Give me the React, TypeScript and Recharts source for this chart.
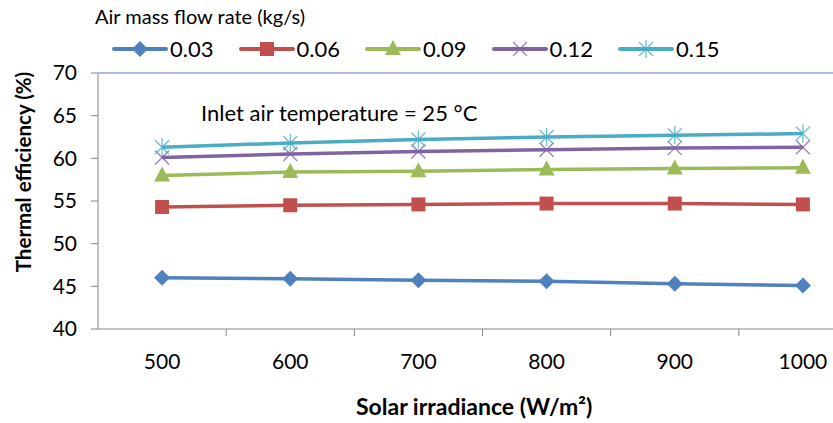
import React from "react";
import {
  LineChart,
  Line,
  XAxis,
  YAxis,
  ReferenceLine,
} from "recharts";

const irradiance = [500, 600, 700, 800, 900, 1000];
const flow003 = [46.0, 45.9, 45.7, 45.6, 45.3, 45.1];
const flow006 = [54.3, 54.5, 54.6, 54.7, 54.7, 54.6];
const flow009 = [58.0, 58.4, 58.5, 58.7, 58.8, 58.9];
const flow012 = [60.1, 60.5, 60.8, 61.0, 61.2, 61.3];
const flow015 = [61.3, 61.8, 62.2, 62.5, 62.7, 62.9];
const yTicks = [40, 45, 50, 55, 60, 65, 70];
const boundaryTicks = [550, 650, 750, 850, 950];

const series = [
  { key: "f003", name: "0.03", values: flow003, color: "#4F81BD", marker: "diamond" },
  { key: "f006", name: "0.06", values: flow006, color: "#C0504D", marker: "square" },
  { key: "f009", name: "0.09", values: flow009, color: "#9BBB59", marker: "triangle" },
  { key: "f012", name: "0.12", values: flow012, color: "#8064A2", marker: "x" },
  { key: "f015", name: "0.15", values: flow015, color: "#4BACC6", marker: "star" },
];

const data = irradiance.map((x, i) => {
  const row: Record<string, number> = { x };
  series.forEach((s) => (row[s.key] = s.values[i]));
  return row;
});

const FONT = "Lato, 'Open Sans', sans-serif";
const AXIS = "#868686";

function Marker({ type, cx, cy, color }: { type: string; cx: number; cy: number; color: string }) {
  if (type === "diamond")
    return <polygon points={`${cx},${cy - 8} ${cx + 8},${cy} ${cx},${cy + 8} ${cx - 8},${cy}`} fill={color} />;
  if (type === "square") return <rect x={cx - 7} y={cy - 7} width={14} height={14} fill={color} />;
  if (type === "triangle")
    return <polygon points={`${cx},${cy - 9} ${cx + 8},${cy + 6} ${cx - 8},${cy + 6}`} fill={color} />;
  const r = 7;
  return (
    <g stroke={color} strokeWidth={1.3} opacity={0.8}>
      <line x1={cx - r} y1={cy - r} x2={cx + r} y2={cy + r} />
      <line x1={cx - r} y1={cy + r} x2={cx + r} y2={cy - r} />
      {type === "star" && <line x1={cx} y1={cy - 9} x2={cx} y2={cy + 9} />}
    </g>
  );
}

function XTick(props: any) {
  const { x, y, payload } = props;
  if (boundaryTicks.includes(payload.value)) {
    return <line x1={x} y1={y} x2={x} y2={y + 7} stroke={AXIS} />;
  }
  return (
    <text x={x} y={y + 40} textAnchor="middle" fontSize={21} fill="#000" fontFamily={FONT}>
      {payload.value}
    </text>
  );
}

export default function App() {
  return (
    <div
      style={{
        position: "absolute",
        left: 0,
        top: 0,
        width: 833,
        height: 423,
        overflow: "hidden",
        background: "#fff",
        fontFamily: FONT,
      }}
    >
      <div style={{ position: "absolute", left: 95, top: 4, fontSize: 20 }}>Air mass flow rate (kg/s)</div>
      <div style={{ position: "absolute", left: 112, top: 35, display: "flex" }}>
        {series.map((s) => (
          <div key={s.key} style={{ display: "flex", alignItems: "center", width: 126.5 }}>
            <svg width={56} height={24}>
              <line x1={2} y1={12} x2={54} y2={12} stroke={s.color} strokeWidth={4} strokeLinecap="round" />
              <Marker type={s.marker} cx={28} cy={12} color={s.color} />
            </svg>
            <span style={{ fontSize: 22, marginLeft: 2 }}>{s.name}</span>
          </div>
        ))}
      </div>
      <div style={{ position: "absolute", left: 201, top: 99, fontSize: 22 }}>Inlet air temperature = 25 °C</div>
      <div
        style={{
          position: "absolute",
          left: 23,
          top: 172,
          fontSize: 20.5,
          fontWeight: "bold",
          whiteSpace: "nowrap",
          transform: "translate(-50%, -50%) rotate(-90deg)",
        }}
      >
        Thermal efficiency (%)
      </div>
      <div
        style={{ position: "absolute", left: 356, top: 392, fontSize: 23, fontWeight: "bold", whiteSpace: "nowrap" }}
      >
        Solar irradiance (W/m²)
      </div>
      <LineChart width={900} height={423} data={data} margin={{ top: 73, right: 33, bottom: 64, left: 0 }}>
        <XAxis
          dataKey="x"
          type="number"
          domain={[450, 1050]}
          ticks={[500, 550, 600, 650, 700, 750, 800, 850, 900, 950, 1000]}
          interval={0}
          height={30}
          stroke={AXIS}
          tickLine={false}
          tickSize={0}
          tickMargin={0}
          tick={<XTick />}
        />
        <YAxis
          domain={[40, 70]}
          ticks={yTicks}
          width={98}
          stroke={AXIS}
          tickSize={7}
          tickMargin={14}
          tick={{ fontSize: 21, fill: "#000", fontFamily: FONT }}
        />
        <ReferenceLine y={70} stroke="#8EA9DB" strokeWidth={1.5} />
        {series.map((s) => (
          <Line
            key={s.key}
            dataKey={s.key}
            name={s.name}
            stroke={s.color}
            strokeWidth={3.5}
            isAnimationActive={false}
            dot={(p: any) => <Marker key={`${s.key}-${p.index}`} type={s.marker} cx={p.cx} cy={p.cy} color={s.color} />}
          />
        ))}
      </LineChart>
    </div>
  );
}
